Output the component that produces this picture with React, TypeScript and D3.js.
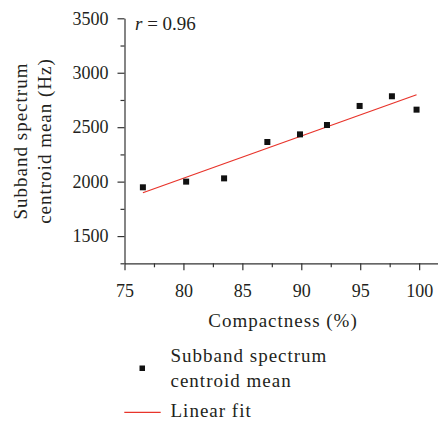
import React, { useEffect, useRef } from 'react';
import * as d3 from 'd3';

// values
const compactness = [76.56, 80.23, 83.45, 87.12, 89.89, 92.18, 94.95, 97.69, 99.78];
const centroidMean = [1948, 2000, 2030, 2364, 2434, 2520, 2695, 2784, 2661];
const fitX = [76.56, 99.78];
const fitY = [1898, 2798];
const xTicks = [75, 80, 85, 90, 95, 100];
const xMinorTicks = [77.5, 82.5, 87.5, 92.5, 97.5];
const yTicks = [1500, 2000, 2500, 3000, 3500];
const yMinorTicks = [1250, 1750, 2250, 2750, 3250];
const yTitle = ['Subband spectrum', 'centroid mean (Hz)'];
const xTitle = 'Compactness (%)';
const legendPoints = ['Subband spectrum', 'centroid mean'];
const legendFit = 'Linear fit';

const width = 438;
const height = 423;
const font = '"Liberation Serif", "Times New Roman", serif';
const ink = '#231f20';
const red = '#e8342b';

export default function App() {
  const ref = useRef<SVGSVGElement>(null);

  useEffect(() => {
    const svg = d3.select(ref.current);
    svg.selectAll('*').remove();

    const x = d3.scaleLinear().domain([75, 101.6]).range([124.5, 438]);
    const y = d3.scaleLinear().domain([1250, 3500]).range([263.3, 18.3]);

    // minor ticks first
    svg.append('g')
      .attr('transform', 'translate(0,263.3)')
      .call(d3.axisBottom(x).tickValues(xMinorTicks).tickSize(4).tickFormat(() => '').tickSizeOuter(0))
      .call(g => g.select('.domain').remove());
    svg.append('g')
      .attr('transform', 'translate(124.5,0)')
      .call(d3.axisLeft(y).tickValues(yMinorTicks).tickSize(4).tickFormat(() => '').tickSizeOuter(0))
      .call(g => g.select('.domain').remove());

    // x axis
    svg.append('g')
      .attr('transform', 'translate(0,263.3)')
      .call(d3.axisBottom(x).tickValues(xTicks).tickSize(7).tickPadding(14).tickSizeOuter(0).tickFormat(d3.format('d')))
      .call(g => g.selectAll('text').attr('font-size', 18).attr('font-family', font).attr('fill', ink));

    // y axis
    svg.append('g')
      .attr('transform', 'translate(124.5,0)')
      .call(d3.axisLeft(y).tickValues(yTicks).tickSize(7).tickPadding(9).tickSizeOuter(0).tickFormat(d3.format('d')))
      .call(g => g.selectAll('text').attr('font-size', 18).attr('font-family', font).attr('fill', ink));

    svg.selectAll('.domain, .tick line').attr('stroke', '#333').attr('stroke-width', 1.2);

    // axis titles
    svg.append('text')
      .attr('x', 283).attr('y', 326.7)
      .attr('text-anchor', 'middle')
      .attr('font-size', 19).attr('letter-spacing', 1).attr('font-family', font).attr('fill', ink)
      .text(xTitle);

    const yt = svg.append('g').attr('transform', 'translate(0,141) rotate(-90)');
    yTitle.forEach((t, i) => {
      yt.append('text')
        .attr('x', 0).attr('y', 27 + i * 23.5)
        .attr('text-anchor', 'middle')
        .attr('font-size', 19).attr('letter-spacing', 1).attr('font-family', font).attr('fill', ink)
        .text(t);
    });

    // fit line
    const line = d3.line<number>().x(d => x(d)).y((d, i) => y(fitY[i]));
    svg.append('path')
      .datum(fitX)
      .attr('d', line)
      .attr('fill', 'none')
      .attr('stroke', red)
      .attr('stroke-width', 1.3);

    // points
    const s = 6;
    svg.selectAll('rect.pt')
      .data(compactness)
      .enter().append('rect')
      .attr('class', 'pt')
      .attr('x', d => x(d) - s / 2)
      .attr('y', (d, i) => y(centroidMean[i]) - s / 2)
      .attr('width', s)
      .attr('height', s)
      .attr('fill', '#111');

    // r label
    const r = svg.append('text')
      .attr('x', 135).attr('y', 30)
      .attr('font-size', 19).attr('font-family', font).attr('fill', ink);
    r.append('tspan').attr('font-style', 'italic').text('r');
    r.append('tspan').text(' = 0.96');

    // legend
    const lg = svg.append('g');
    lg.append('rect')
      .attr('x', 139.5).attr('y', 365.5).attr('width', 5.5).attr('height', 5.5)
      .attr('fill', '#111');
    legendPoints.forEach((t, i) => {
      lg.append('text')
        .attr('x', 170.5).attr('y', 361.7 + i * 25)
        .attr('font-size', 19).attr('letter-spacing', 1).attr('font-family', font).attr('fill', ink)
        .text(t);
    });
    lg.append('line')
      .attr('x1', 124.3).attr('x2', 160.7).attr('y1', 412.3).attr('y2', 412.3)
      .attr('stroke', red).attr('stroke-width', 1.3);
    lg.append('text')
      .attr('x', 170.5).attr('y', 416.7)
      .attr('font-size', 19).attr('letter-spacing', 1).attr('font-family', font).attr('fill', ink)
      .text(legendFit);
  }, []);

  return (
    <svg
      ref={ref}
      width={width}
      height={height}
      style={{ position: 'absolute', left: 0, top: 0, background: '#fff' }}
    />
  );
}
